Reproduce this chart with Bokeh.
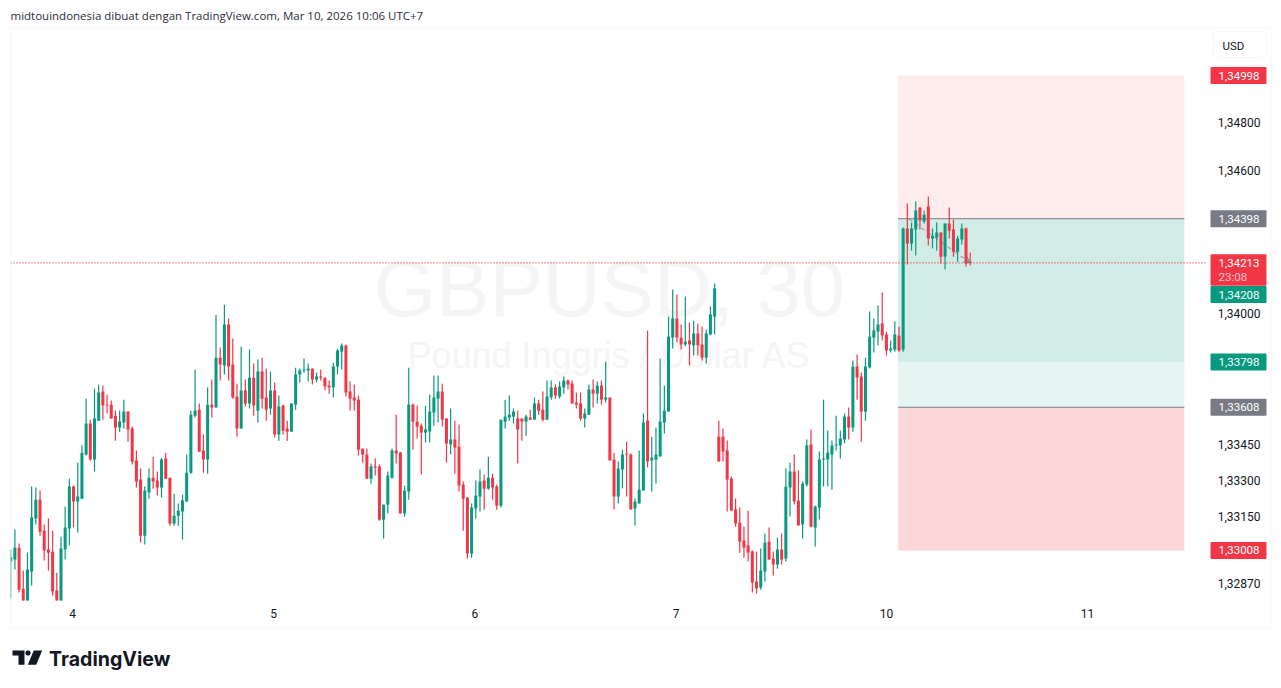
from bokeh.embed import file_html
from bokeh.resources import INLINE
from bokeh.plotting import figure
from bokeh.models import (ColumnDataSource, Label, BoxAnnotation, PolyAnnotation,
                          FixedTicker, Range1d, Arrow, OpenHead)
import numpy as np

# prices in points (1e-5)
highs = [133012,133096,133037,132924,132999,133276,133272,133259,133117,133142,
133091,132915,133066,133192,133309,133280,133376,133448,133644,133556,
133686,133703,133699,133661,133636,133594,133594,133640,133590,133527,
133427,133351,133276,133351,133401,133339,133397,133418,133313,133246,
133205,133242,133410,133594,133766,133624,133494,133691,133724,133996,
133858,134038,133980,133896,133707,133862,133724,133850,133791,133808,
133816,133770,133758,133712,133657,133619,133552,133624,133774,133770,
133812,133791,133770,133753,133766,133732,133720,133795,133854,133875,
133871,133716,133703,133657,133435,133435,133372,133393,133368,133200,
133339,133435,133577,133422,133280,133774,133624,133615,133540,133615,
133661,133741,133741,133707,133561,133603,133552,133536,133297,133230,
133205,133301,133347,133326,133401,133330,133284,133556,133640,133657,
133603,133594,133561,133577,133598,133649,133640,133674,133720,133720,
133703,133716,133737,133724,133720,133670,133670,133603,133703,133724,
133716,133720,133799,133649,133418,133381,133431,133464,133414,133226,
133427,133582,133930,133485,133523,133812,133699,133988,134101,134080,
133955,134072,133963,133971,133959,133946,133934,134030,134127,133552,
133519,133469,133318,133226,133188,133108,133175,133008,133004,133016,
133079,133104,133004,133062,133079,133351,133376,133410,133343,133297,
133473,133515,133196,133423,133640,133511,133469,133573,133511,133582,
133607,133804,133829,133754,133816,134009,133980,134034,134089,133925,
133887,133967,133946,134361,134462,134382,134470,134445,134432,134491,
134357,134382,134340,134378,134445,134394,134327,134378,134361,134256]

lows = [132808,132928,132832,132798,132798,132861,133117,133070,132966,132924,
132819,132798,132798,132970,133029,133104,133083,133225,133406,133385,
133339,133552,133556,133582,133561,133468,133506,133519,133464,133368,
133272,133041,133033,133225,133267,133238,133230,133309,133112,133112,
133112,133054,133213,133330,133565,133422,133334,133330,133565,133607,
133720,133745,133720,133644,133485,133519,133611,133603,133573,133544,
133603,133552,133577,133481,133468,133494,133468,133506,133598,133712,
133753,133716,133703,133712,133720,133678,133665,133649,133745,133766,
133653,133594,133594,133406,133376,133309,133288,133322,133133,133058,
133163,133309,133372,133163,133150,133221,133431,133477,133326,133460,
133460,133531,133544,133527,133376,133410,133330,133255,133091,132974,
132978,133142,133171,133179,133263,133221,133179,133188,133519,133552,
133540,133372,133468,133489,133556,133556,133577,133548,133556,133640,
133644,133644,133665,133682,133624,133603,133552,133523,133577,133607,
133624,133619,133628,133385,133180,133205,133268,133234,133180,133113,
133205,133259,133356,133255,133289,133402,133498,133590,133854,133879,
133850,133863,133783,133825,133825,133804,133791,133909,133913,133381,
133381,133171,133175,133108,132999,132978,132962,132832,132828,132844,
132878,132970,132903,132932,132949,132962,133150,133201,133113,133058,
133276,133104,133025,133138,133276,133276,133263,133427,133393,133456,
133473,133506,133640,133464,133552,133770,133837,133867,133888,133825,
133837,133841,133841,133841,134206,134265,134244,134353,134378,134286,
134273,134265,134210,134185,134315,134239,134218,134290,134198,134202]

opens = [132963,132970,133020,132848,132798,132920,133142,133221,133091,133012,
133003,132840,132798,133012,133100,133276,133213,133225,133410,133540,
133389,133552,133674,133619,133619,133573,133523,133544,133590,133519,
133385,133305,133070,133251,133313,133301,133272,133393,133313,133121,
133154,133171,133213,133334,133573,133598,133427,133389,133619,133607,
133816,133783,133955,133787,133653,133519,133678,133624,133732,133594,
133758,133649,133603,133678,133494,133615,133519,133506,133619,133745,
133762,133762,133770,133724,133737,133732,133699,133691,133779,133841,
133867,133674,133649,133640,133435,133410,133309,133360,133360,133137,
133200,133313,133427,133418,133163,133255,133619,133548,133531,133502,
133506,133586,133644,133674,133561,133452,133473,133443,133284,133230,
132995,133184,133234,133301,133267,133313,133276,133196,133548,133565,
133569,133561,133561,133548,133565,133556,133624,133598,133556,133649,
133691,133653,133691,133720,133707,133628,133624,133561,133577,133682,
133665,133699,133640,133649,133389,133234,133347,133414,133410,133184,
133205,133259,133552,133385,133389,133402,133544,133590,133900,133980,
133900,133871,133888,133867,133917,133871,133816,133913,133988,133485,
133485,133427,133309,133180,133125,133050,133029,133004,132878,132853,
132920,133045,132974,132949,133012,132974,133272,133339,133217,133117,
133284,133452,133104,133188,133389,133389,133410,133448,133448,133473,
133569,133523,133779,133737,133590,133775,133900,133925,133959,133913,
133846,133850,133908,133850,134357,134294,134353,134445,134386,134449,
134315,134319,134340,134239,134378,134353,134260,134311,134357,134218]

closes = [132980,133020,132844,132798,132928,133146,133221,133087,133008,132999,
132836,132798,133016,133104,133276,133213,133234,133418,133540,133389,
133561,133670,133615,133615,133561,133523,133548,133590,133515,133380,
133297,133070,133259,133313,133297,133272,133389,133309,133121,133154,
133175,133217,133334,133577,133594,133422,133389,133619,133607,133816,
133787,133955,133779,133649,133519,133678,133624,133732,133615,133758,
133644,133598,133678,133494,133611,133510,133506,133624,133745,133762,
133766,133770,133724,133737,133732,133695,133691,133779,133846,133867,
133670,133644,133636,133431,133410,133309,133360,133355,133137,133200,
133322,133427,133414,133163,133259,133619,133548,133527,133502,133515,
133590,133649,133674,133556,133456,133473,133439,133280,133225,132995,
133188,133238,133297,133267,133313,133272,133196,133556,133569,133577,
133590,133515,133548,133569,133556,133624,133594,133556,133653,133691,
133657,133695,133720,133703,133624,133619,133561,133582,133682,133665,
133699,133640,133649,133385,133234,133351,133410,133410,133180,133213,
133263,133544,133381,133397,133410,133548,133594,133904,133980,133900,
133871,133883,133871,133917,133867,133816,133917,133997,134106,133381,
133423,133305,133175,133121,133045,133020,132999,132874,132849,132924,
133041,132970,132949,133012,132970,133276,133339,133213,133113,133288,
133448,133108,133192,133389,133393,133418,133448,133452,133477,133569,
133523,133779,133733,133590,133779,133904,133930,133955,133909,133846,
133854,133913,133846,134357,134294,134357,134432,134390,134415,134315,
134327,134340,134239,134378,134348,134260,134315,134357,134210,134213]

price_ticks = [1.348, 1.346, 1.340, 1.3345, 1.333, 1.3315, 1.3287]
price_tick_labels = ["1,34800", "1,34600", "1,34000", "1,33450", "1,33300", "1,33150", "1,32870"]
day_ticks = [14.75, 62.75, 110.8, 158.8, 209.0, 257.0]
day_labels = ["4", "5", "6", "7", "10", "11"]

stop_price = 1.34998
entry_price = 1.34398
target_price = 1.33798
entry2_price = 1.33608
stop2_price = 1.33008
last_price = 1.34213
bid_price = 1.34208
pos_start, pos_end = 211.8, 280.1
traj_x = [214.3, 229.0]
traj_y = [1.34398, 1.34213]
axis_index = 285.2      # bar index where the price scale begins
axis_floor = 1.327985   # price where the time scale begins
first_bar = -0.048

GREEN, RED, GREY, INK = "#089981", "#f23645", "#787b86", "#131722"

o, h, l, c = [np.array(a) / 1e5 for a in (opens, highs, lows, closes)]
idx = np.arange(len(o))
up = c > o
src = ColumnDataSource(dict(x=idx, o=o, h=h, l=l, c=c, top=np.maximum(o, c), bot=np.minimum(o, c),
                            col=[GREEN if u else RED for u in up]))

ppp = 24.006e-3 / 573
W, H = 1273, 680
# canvas is pinned so that bar i sits at 10.2 + 4.19 i and the scale 4.19e-5 per pixel
p = figure(width=W, height=H, min_border=0,
           x_range=Range1d(-10.2 / 4.19, (W - 10.2) / 4.19),
           y_range=Range1d(axis_floor - (H - 600) * ppp, axis_floor + 600 * ppp),
           output_backend="svg", toolbar_location=None, x_axis_location="below", y_axis_location="right")
p.grid.visible = False
p.outline_line_color = None
p.background_fill_color = "white"
p.border_fill_color = "white"

p.xaxis.fixed_location = axis_floor
p.yaxis.fixed_location = axis_index
for ax, ticks, labels, standoff in ((p.xaxis[0], day_ticks, day_labels, 2), (p.yaxis[0], price_ticks, price_tick_labels, 6)):
    ax.ticker = FixedTicker(ticks=ticks)
    ax.major_label_overrides = dict(zip(ticks, labels))
    ax.axis_line_color = None
    ax.major_tick_line_color = None
    ax.minor_tick_line_color = None
    ax.major_label_text_font = "Roboto"
    ax.major_label_text_font_size = "12px"
    ax.major_label_text_color = INK
    ax.major_label_standoff = standoff

sx = lambda x: x
sy = lambda y: H - y

def scr_label(x, y, text, **kw):
    kw.setdefault("text_font", "Roboto")
    kw.setdefault("text_font_size", "12px")
    kw.setdefault("text_color", INK)
    kw.setdefault("text_baseline", "middle")
    p.add_layout(Label(x=sx(x), y=sy(y), x_units="screen", y_units="screen", text=text, **kw))

def scr_box(x0, x1, y0, y1, **kw):
    p.add_layout(BoxAnnotation(left=sx(x0), right=sx(x1), top=sy(y0), bottom=sy(y1),
                               left_units="screen", right_units="screen", top_units="screen", bottom_units="screen", **kw))

# watermark
scr_label(609, 288, "GBPUSD, 30", text_font="Liberation Sans", text_font_size="80px", text_color="#f5f5f6",
          text_align="center", level="underlay")
scr_label(609, 355, "Pound Inggris / Dollar AS", text_font="Liberation Sans", text_font_size="36px",
          text_color="#f5f5f6", text_align="center", level="underlay")

# position regions
p.quad(left=[pos_start] * 4, right=[pos_end] * 4,
       bottom=[entry_price, target_price, entry2_price, stop2_price],
       top=[stop_price, entry_price, target_price, entry2_price],
       fill_color=["#feebec", "#d1ebe6", "#e6f5f2", "#fcd7da"], line_color=None)
p.segment(x0=[pos_start] * 2, x1=[pos_end] * 2, y0=[entry_price, entry2_price], y1=[entry_price, entry2_price],
          line_color=GREY, line_width=1)
p.line(traj_x, traj_y, line_color=GREY, line_width=1.2, line_dash=[4, 4], line_alpha=0.6)

# candles
p.segment(x0="x", x1="x", y0="l", y1="h", line_color="col", line_width=1.2, source=src)
p.vbar(x="x", width=0.72, bottom="bot", top="top", fill_color="col", line_color=None, source=src)
p.add_layout(Arrow(end=OpenHead(size=6, line_color=GREY, line_width=1), x_start=traj_x[0] + 14, y_start=traj_y[0] + (traj_y[1] - traj_y[0]) * 14 / 14.7,
                   x_end=traj_x[1], y_end=traj_y[1], line_color=GREY, line_width=1, line_alpha=0.8))

# current price line
p.line([first_bar, axis_index], [last_price, last_price], line_color=RED, line_width=1.2, line_dash=[1, 2])

# mask left of the plot, outer frame
scr_box(0, 10, 20, 610, fill_color="white", fill_alpha=1, line_color=None)
scr_box(10, 1271, 27, 628, fill_alpha=0, line_color="#f0f3fa", line_width=2)

# USD button
scr_box(1213, 1266, 31, 57, fill_color="white", fill_alpha=1, line_color="#e0e3eb", line_width=1, border_radius=4)
scr_label(1222, 45, "USD", text_font_size="11.5px")

# price badges
def badge(price, col, shift=0.0, h_up=8.5, h_dn=8.5, text=None):
    centre = price - shift * ppp
    p.add_layout(BoxAnnotation(left=sx(1210), right=sx(1266), top=centre + h_up * ppp, bottom=centre - h_dn * ppp,
                               left_units="screen", right_units="screen",
                               fill_color=col, fill_alpha=1, line_color=None, border_radius=1))
    lbl = text or f"{price:.5f}".replace(".", ",")
    p.add_layout(Label(x=sx(1218), y=centre, x_units="screen", text=lbl, text_font="Roboto", text_font_size="11.5px",
                       text_color="white", text_baseline="middle"))

badge(stop_price, RED)
badge(entry_price, GREY)
badge(target_price, GREEN)
badge(entry2_price, GREY)
badge(stop2_price, RED)
badge(last_price, RED, h_up=8.5, h_dn=23)
scr_label(1218, 276, "23:08", text_color="#fcc4c9", text_font_size="11.5px")
badge(bid_price, GREEN, shift=30.5)

# header
scr_label(10, 15, "midtouindonesia dibuat dengan TradingView.com, Mar 10, 2026 10:06 UTC+7",
          text_font="Open Sans", text_font_size="11.5px", text_color="#2a2e39")

# logo
def poly(xs, ys):
    p.add_layout(PolyAnnotation(xs=[sx(v) for v in xs], ys=[sy(v) for v in ys], xs_units="screen", ys_units="screen",
                                fill_color=INK, fill_alpha=1, line_color=None))

poly([12, 24, 24, 18, 18, 12], [650, 650, 664.3, 664.3, 655, 655])
poly([33.3, 41.7, 35.7, 27.3], [650, 650, 664.3, 664.3])
scr_box(25, 30, 650, 655, fill_color=INK, fill_alpha=1, line_color=None, border_radius=2)
scr_label(48.5, 658, "TradingView", text_font="Inter", text_font_size="19.6px", text_font_style="bold")

open("out.html", "w").write(file_html(p, INLINE))
